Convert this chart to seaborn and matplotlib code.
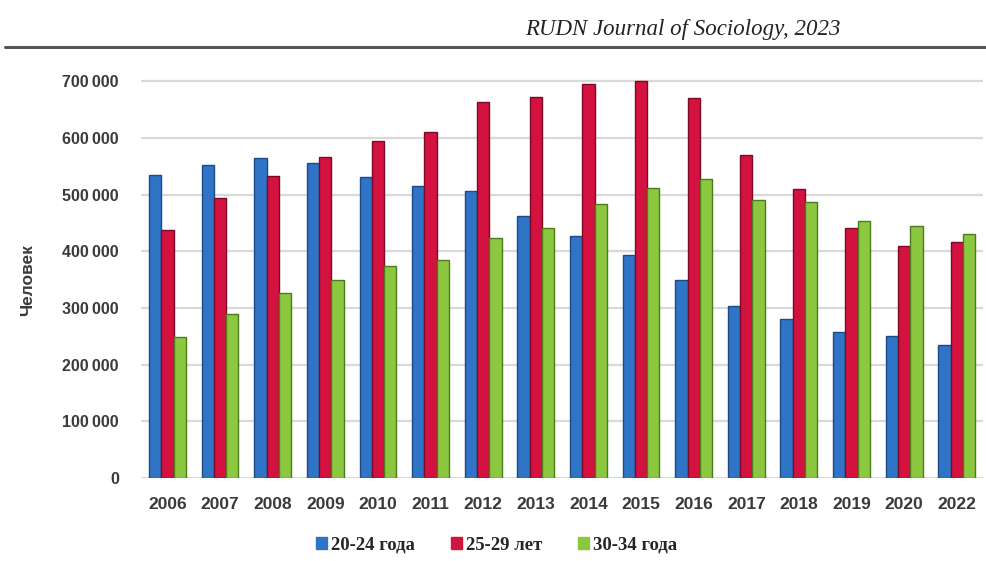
import matplotlib
matplotlib.use("Agg")
import matplotlib.pyplot as plt
import matplotlib.ticker as mticker
from matplotlib.lines import Line2D
import seaborn as sns
import pandas as pd

years = ["2006", "2007", "2008", "2009", "2010", "2011", "2012", "2013",
         "2014", "2015", "2016", "2017", "2018", "2019", "2020", "2022"]
groups = ["20-24 года", "25-29 лет", "30-34 года"]
age_20_24 = [534000, 552000, 565000, 556000, 531000, 515000, 506000, 462000,
             428000, 393000, 349000, 304000, 281000, 258000, 250000, 235000]
age_25_29 = [437000, 494000, 533000, 566000, 595000, 611000, 664000, 673000,
             696000, 701000, 671000, 570000, 510000, 441000, 409000, 416000]
age_30_34 = [248000, 290000, 326000, 349000, 375000, 384000, 423000, 442000,
             483000, 512000, 527000, 490000, 488000, 453000, 444000, 430000]
colors = ["#2f74c6", "#d3123f", "#8cc83f"]
edges = ["#1b4a86", "#7c0a26", "#4d7a1c"]

df = pd.DataFrame({
    "year": years * 3,
    "group": [groups[0]] * 16 + [groups[1]] * 16 + [groups[2]] * 16,
    "value": age_20_24 + age_25_29 + age_30_34,
})

sns.set_style("white")
plt.rcParams["font.family"] = ["Liberation Sans", "DejaVu Sans"]

fig = plt.figure(figsize=(9.87, 5.61), dpi=100)
ax = fig.add_axes([0.143, 0.148, 0.853, 0.727])

sns.barplot(data=df, x="year", y="value", hue="group", order=years,
            hue_order=groups, palette=colors, width=0.7, ax=ax,
            errorbar=None, saturation=1, legend=True)

for cont, ec in zip(ax.containers, edges):
    for p in cont:
        p.set_edgecolor(ec)
        p.set_linewidth(1.0)

ax.set_ylim(0, 720000)
ax.set_xlim(-0.5, 15.5)
ax.yaxis.set_major_locator(mticker.MultipleLocator(100000))
ax.yaxis.set_major_formatter(
    mticker.FuncFormatter(lambda v, p: f"{int(v):,}".replace(",", "\u2009") if v > 0 else "0"))
ax.grid(axis="y", color="#d9d9d9", linewidth=1.6)
ax.set_axisbelow(True)
for s in ax.spines.values():
    s.set_visible(False)
ax.tick_params(axis="both", length=0)
ax.tick_params(axis="y", pad=16, labelsize=11.5, labelcolor="#3a3a3a")
ax.tick_params(axis="x", pad=14, labelsize=12.5, labelcolor="#3a3a3a")
for t in ax.get_yticklabels() + ax.get_xticklabels():
    t.set_fontweight("bold")

ax.set_xlabel("")
ax.set_ylabel("")
fig.text(0.028, 0.50, "Человек", rotation=90, ha="center", va="center",
         fontsize=12.5, fontweight="bold", color="#3a3a3a")

ax.get_legend().remove()
handles = [plt.Rectangle((0, 0), 1, 1, facecolor=c, edgecolor=c) for c in colors]
fig.legend(handles, groups, loc="center", bbox_to_anchor=(0.503, 0.028), ncol=3,
           frameon=False, handlelength=0.6, handleheight=0.6, handletextpad=0.2,
           columnspacing=1.9,
           prop={"family": ["Liberation Serif", "DejaVu Serif"], "weight": "bold", "size": 13.5})

fig.text(0.692, 0.947, "RUDN Journal of Sociology, 2023", ha="center", va="center",
         fontsize=16.5, style="italic", family=["Liberation Serif", "DejaVu Serif"],
         color="#222222")
fig.add_artist(Line2D([0.005, 1.0], [0.916, 0.916], transform=fig.transFigure,
                      color="#555555", linewidth=2.2))

fig.savefig("out.png", dpi=100)
